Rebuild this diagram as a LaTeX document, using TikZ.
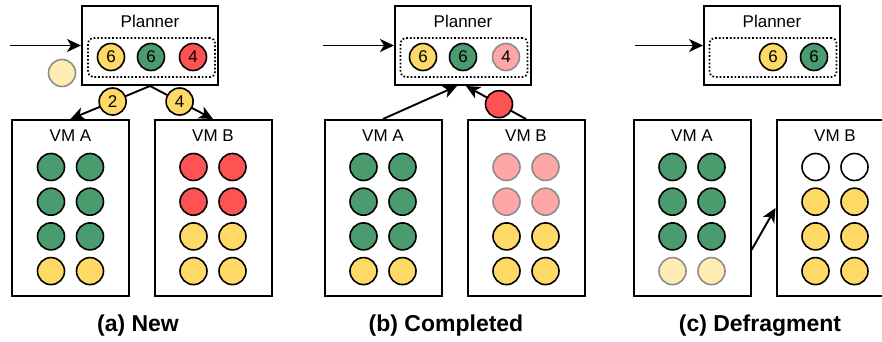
\documentclass[tikz,border=0pt]{standalone}
\usepackage{fontspec}
\setmainfont{Liberation Sans}
\usetikzlibrary{arrows.meta, positioning}

\begin{document}
\begin{tikzpicture}[x=1pt, y=-1pt, font=\fontsize{17}{20}\selectfont,
    plbox/.style={draw, line width=2pt, minimum width=136pt, minimum height=79pt, inner sep=0pt},
    vmbox/.style={draw, line width=2pt, minimum width=117pt, minimum height=176pt, inner sep=0pt},
    qbox/.style={draw, dotted, line width=1.7pt, rounded corners=5pt, minimum width=127pt, minimum height=39pt, inner sep=0pt},
    task/.style={circle, draw, line width=1.6pt, minimum size=27pt, inner sep=0pt},
    faded/.style={task, draw=black!45},
    arr/.style={line width=1.9pt, -{Stealth[length=14pt, width=13pt, inset=4pt]}},
    caption/.style={font=\fontsize{23}{26}\selectfont\bfseries, anchor=base}]
  \definecolor{jobgreen}{HTML}{4A9B6E}
  \definecolor{jobyellow}{HTML}{FFD966}
  \definecolor{jobred}{HTML}{FF5252}
  \definecolor{jobpink}{HTML}{FFA6A6}
  \definecolor{paleyellow}{HTML}{FFECB3}

  \useasboundingbox (0,0) rectangle (882,342);

  % (a) New
  \node[plbox] (pa) at (150,45.5) {};
  \node (pa-title) at (150,21) {Planner};
  \node[qbox] (pa-q) at (151.5,57.5) {};
  \node[task, fill=jobyellow] (pa-q1) at (111,57) {6};
  \node[task, fill=jobgreen] (pa-q2) at (151,57) {6};
  \node[task, fill=jobred] (pa-q3) at (193,57) {4};
  \coordinate (pa-in) at (10,45.5);
  \draw[arr] (pa-in) -- (pa.west);
  \node[faded, fill=paleyellow] (pa-new) at (62,73) {};

  \node[vmbox] (vaa) at (70.5,208) {};
  \node (vaa-title) at (70.5,135.5) {VM A};
  \foreach \c [count=\i] in {jobgreen,jobgreen,jobgreen,jobyellow} {
    \node[task, fill=\c] (vaa-\i l) at (51,132.3+34.7*\i) {};
    \node[task, fill=\c] (vaa-\i r) at (90,132.3+34.7*\i) {};
  }
  \node[vmbox] (vab) at (213,208) {};
  \node (vab-title) at (213,135.5) {VM B};
  \foreach \c [count=\i] in {jobred,jobred,jobyellow,jobyellow} {
    \node[task, fill=\c] (vab-\i l) at (193.5,132.3+34.7*\i) {};
    \node[task, fill=\c] (vab-\i r) at (232.5,132.3+34.7*\i) {};
  }
  \draw[arr] (pa.south) -- node[task, fill=jobyellow, pos=.47] (pa-n2) {2} (vaa.north);
  \draw[arr] (pa.south) -- node[task, fill=jobyellow, pos=.47] (pa-n4) {4} (vab.north);
  \node[caption] (cap-a) at (138,331) {(a) New};

  % (b) Completed
  \node[plbox] (pb) at (463,45.5) {};
  \node (pb-title) at (463,21) {Planner};
  \node[qbox] (pb-q) at (464,57.5) {};
  \node[task, fill=jobyellow] (pb-q1) at (423,57) {6};
  \node[task, fill=jobgreen] (pb-q2) at (463,57) {6};
  \node[faded, fill=jobpink] (pb-q3) at (506,57) {4};
  \coordinate (pb-in) at (323,45.5);
  \draw[arr] (pb-in) -- (pb.west);

  \node[vmbox] (vba) at (383,208) {};
  \node (vba-title) at (383,135.5) {VM A};
  \foreach \c [count=\i] in {jobgreen,jobgreen,jobgreen,jobyellow} {
    \node[task, fill=\c] (vba-\i l) at (363.5,132.3+34.7*\i) {};
    \node[task, fill=\c] (vba-\i r) at (402.5,132.3+34.7*\i) {};
  }
  \node[vmbox] (vbb) at (526,208) {};
  \node (vbb-title) at (526,135.5) {VM B};
  \foreach \s [count=\i] in {faded,faded,task,task} {
    \pgfmathsetmacro{\c}{\i<3 ? "jobpink" : "jobyellow"}
    \node[\s, fill=\c] (vbb-\i l) at (506.5,132.3+34.7*\i) {};
    \node[\s, fill=\c] (vbb-\i r) at (545.5,132.3+34.7*\i) {};
  }
  \draw[arr] (vba.north) -- ([xshift=-6pt]pb.south);
  \draw[arr] (vbb.north) -- node[task, fill=jobred, pos=.45] (pb-done) {} ([xshift=3pt]pb.south);
  \node[caption] (cap-b) at (446,331) {(b) Completed};

  % (c) Defragment
  \node[plbox] (pc) at (772,45.5) {};
  \node (pc-title) at (772,21) {Planner};
  \node[qbox] (pc-q) at (773,57.5) {};
  \node[task, fill=jobyellow] (pc-q1) at (773,57) {6};
  \node[task, fill=jobgreen] (pc-q2) at (814,57) {6};
  \coordinate (pc-in) at (635,45.5);
  \draw[arr] (pc-in) -- (pc.west);

  \node[vmbox] (vca) at (692,208) {};
  \node (vca-title) at (692,135.5) {VM A};
  \foreach \c [count=\i] in {jobgreen,jobgreen,jobgreen} {
    \node[task, fill=\c] (vca-\i l) at (672.5,132.3+34.7*\i) {};
    \node[task, fill=\c] (vca-\i r) at (711.5,132.3+34.7*\i) {};
  }
  \node[faded, fill=paleyellow] (vca-4l) at (672.5,271.1) {};
  \node[faded, fill=paleyellow] (vca-4r) at (711.5,271.1) {};
  \node[vmbox] (vcb) at (835,208) {};
  \node (vcb-title) at (835,135.5) {VM B};
  \foreach \c [count=\i] in {white,jobyellow,jobyellow,jobyellow} {
    \node[task, fill=\c] (vcb-\i l) at (815.5,132.3+34.7*\i) {};
    \node[task, fill=\c] (vcb-\i r) at (854.5,132.3+34.7*\i) {};
  }
  \draw[arr] ([yshift=-42pt]vca.east) -- (vcb.west);
  \node[caption] (cap-c) at (760,331) {(c) Defragment};
\end{tikzpicture}
\end{document}
